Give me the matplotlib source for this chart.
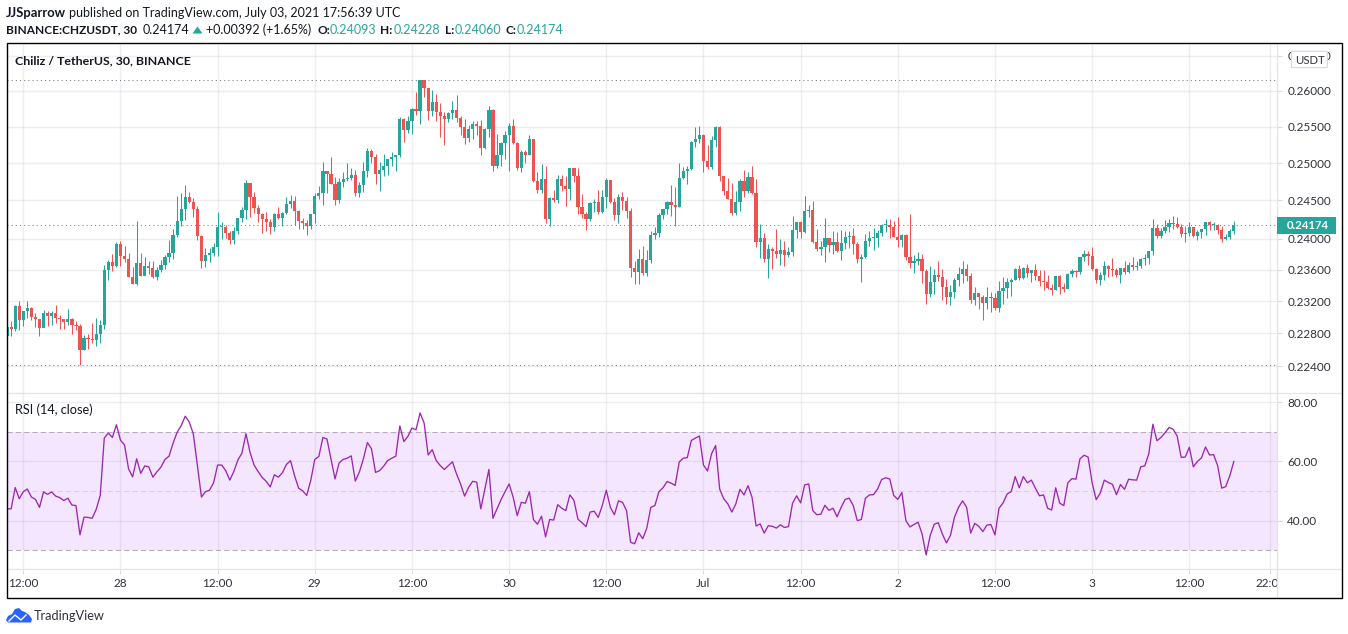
import numpy as np
import matplotlib
matplotlib.use("Agg")
import matplotlib.pyplot as plt
from matplotlib.patches import Rectangle, Polygon, FancyBboxPatch

first_open = 22771
closes = [
    22883,22854,23142,22967,23079,23117,23004,22979,22867,23054,23017,23054,22992,22979,22942,22979,22904,22895,22596,22743,
    22730,22718,22792,22904,23592,23695,23643,23927,23772,23733,23504,23417,23682,23517,23643,23617,23504,23592,23656,23759,
    23811,24044,24228,24386,24545,24478,24386,24031,23707,23785,23811,23888,24149,24149,24070,23979,24096,24268,24373,24737,
    24545,24399,24320,24254,24215,24149,24320,24268,24333,24452,24491,24360,24228,24202,24162,
    24320,24559,24600,24900,24859,24723,24505,24750,24791,24805,24846,24600,24709,24900,25171,25090,24859,24914,24968,25050,
    25077,25104,25606,25455,25579,25745,25718,26148,26037,25718,25843,25704,25648,25606,25690,25731,25620,25495,25347,25468,
    25537,25509,25212,25468,25731,24955,25104,25279,25387,25509,25279,24941,25158,25117,25333,24764,24641,24791,24254,24531,
    24505,24791,24696,24655,24928,24832,24412,24320,24254,24465,24478,24346,24545,24778,24478,24307,24545,24491,24360,23617,
    23567,23733,
    23554,23720,24044,24070,24307,24386,24478,24439,24412,24801,24896,24923,25291,25332,25387,25032,24950,25318,25495,24829,
    24626,24518,24333,24478,24761,24626,24815,24599,23953,24004,23733,23862,23837,23798,23849,23785,23824,24110,24215,24083,
    24360,24373,23953,23862,23888,24004,23914,23953,23837,23940,24018,24031,23927,23733,23759,23966,24004,24004,24070,24175,
    24175,24149,24018,23978,24044,23759,23682,23707,23733,23579,23292,23442,23529,23510,
    23379,23254,23317,23467,23542,23604,23517,23217,23304,23254,23179,23254,23242,23117,23329,23367,23442,23467,23604,23492,
    23617,23554,23592,23517,23454,23445,23367,23342,23517,23379,23354,23542,23579,23567,23759,23798,23772,23604,23467,23529,
    23643,23604,23592,23529,23617,23567,23656,23630,23643,23733,23746,23836,24136,24031,24096,24149,24202,24189,24149,24057,
    24070,24149,24031,24083,24123,24215,24175,24175,24110,23991,24018,24093,24174,
]
highs = [
    22954,22954,23154,23204,23079,23204,23129,23050,22979,23088,23079,23079,23154,23029,22979,23104,22992,22954,22917,22779,
    22792,22929,22992,22967,23656,23720,23798,23953,23966,23901,23811,23630,24228,23811,23759,23707,23707,23630,23720,23785,
    23979,24123,24559,24600,24709,24614,24532,24425,24044,23875,23875,23940,24346,24215,24175,24096,24149,24268,24412,24778,
    24737,24614,24439,24333,24346,24254,24333,24412,24346,24545,24573,24559,24373,24268,24241,
    24320,24600,24696,25009,24900,25090,24819,24805,24887,24996,24928,24914,24750,25009,25212,25198,25130,25009,25130,25063,
    25158,25117,25634,25620,25648,25759,25981,26148,26148,26037,26009,25954,25829,25704,25704,25857,25940,25648,25606,25523,
    25579,25579,25593,25482,25787,25745,25401,25293,25441,25551,25606,25293,25185,25185,25387,25320,24887,24982,24955,24545,
    24641,24846,24846,24832,24941,24928,24928,24586,24346,24478,24518,24641,24641,24805,24778,24531,24586,24614,24545,24399,
    23707,23862,
    23901,23849,24096,24149,24333,24386,24491,24707,24680,25005,24950,24963,25305,25495,25509,25400,25250,25373,25509,25509,
    24815,24802,24734,24626,24788,24910,24883,24964,24788,24189,24070,23927,23888,24123,23991,23966,23888,24294,24215,24228,
    24559,24439,24491,24123,23966,24268,24004,24096,24083,24110,24096,24096,24136,23953,23798,24057,24096,24136,24110,24189,
    24254,24254,24228,24281,24057,24057,24320,23785,23824,23798,23604,23643,23604,23708,
    23604,23479,23404,23492,23630,23708,23669,23554,23379,23292,23279,23379,23317,23304,23454,23504,23492,23492,23617,23656,
    23630,23669,23592,23669,23592,23592,23529,23417,23517,23529,23429,23554,23604,23592,23759,23849,23836,23888,23617,23567,
    23708,23656,23746,23617,23617,23708,23695,23759,23708,23746,23798,23836,24254,24189,24136,24241,24254,24294,24281,24189,
    24162,24215,24149,24110,24123,24215,24228,24215,24189,24162,24057,24123,24228,
]
lows = [
    22771,22767,22833,22842,22892,22992,22967,22879,22767,22879,22892,22904,22929,22854,22854,22904,22792,22842,22412,22596,
    22608,22682,22645,22682,22854,23467,23579,23630,23643,23695,23504,23417,23404,23517,23529,23542,23492,23467,23567,23604,
    23695,23733,24018,24162,24241,24465,24281,23979,23617,23630,23695,23772,23772,23991,24004,23927,23927,24057,24215,24254,
    24281,24333,24215,24070,24096,24057,24096,24254,24162,24320,24399,24175,24123,24123,24044,
    24123,24202,24518,24439,24600,24723,24439,24465,24682,24764,24778,24559,24545,24614,24819,24996,24723,24627,24832,24846,
    24955,24900,25090,25293,25414,25401,25662,25537,25912,25593,25648,25579,25360,25252,25565,25606,25565,25387,25266,25293,
    25333,25387,25117,25198,25360,24900,24928,24968,25063,24900,25266,24914,24887,24996,25117,24750,24600,24600,24202,24162,
    24478,24465,24627,24425,24505,24750,24320,24268,24110,24228,24346,24320,24333,24399,24465,24241,24202,24373,24268,23504,
    23417,23417,
    23529,23517,23682,23991,24018,24254,24320,24294,24162,24412,24788,24720,24914,25223,25278,24883,24923,24923,25223,24761,
    24572,24518,24307,24307,24360,24545,24599,24585,23888,23746,23695,23492,23604,23746,23656,23643,23759,23772,24004,24004,
    24070,24281,23940,23837,23785,23695,23824,23798,23824,23720,23862,23875,23798,23682,23442,23746,23901,23849,23888,24031,
    24083,24004,24018,23888,23888,23720,23617,23554,23656,23429,23167,23254,23292,23454,
    23217,23167,23154,23242,23392,23429,23454,23179,23154,23104,22967,23104,23067,23092,23067,23167,23242,23267,23467,23467,
    23479,23504,23442,23467,23392,23342,23354,23279,23342,23292,23317,23367,23504,23504,23542,23708,23656,23592,23429,23404,
    23467,23504,23517,23504,23429,23542,23554,23592,23592,23617,23656,23669,23785,24004,24004,24070,24083,24123,24136,24018,
    23953,24031,24018,23979,24004,24044,24110,24110,24057,23953,23979,23991,24060,
]
rsi = [
    44.0,44.0,51.2,47.4,49.8,50.7,48.0,47.2,44.5,49.7,48.9,49.7,48.3,47.8,46.8,47.6,45.3,45.1,35.2,41.2,
    41.1,40.8,43.8,48.5,67.9,69.6,68.1,72.4,67.2,65.6,57.5,54.8,60.9,56.0,58.5,58.2,54.7,56.5,58.1,60.7,
    61.8,66.2,69.9,72.1,75.3,73.3,69.3,58.6,48.0,49.8,50.3,52.8,58.8,58.8,56.9,53.7,56.6,60.5,62.8,69.4,
    63.1,58.8,56.6,54.6,53.3,51.4,55.5,54.7,56.2,59.0,60.3,55.2,51.0,50.1,48.5,53.6,60.7,61.7,68.1,67.6,
    60.9,54.1,59.5,60.7,61.1,61.9,53.4,56.4,60.9,66.4,64.3,56.3,56.9,58.4,60.3,61.1,61.8,72.0,66.7,68.5,
    71.3,70.7,76.4,73.0,62.2,
    64.0,60.3,58.6,57.3,58.6,59.9,55.8,52.4,48.3,51.3,53.3,53.0,44.0,50.7,57.3,40.8,44.0,47.1,49.8,52.4,
    47.9,41.7,46.2,45.9,49.8,40.4,38.8,41.5,34.5,40.4,40.2,45.4,44.2,43.4,48.7,46.9,40.5,39.3,38.0,42.9,
    43.2,41.1,45.1,50.3,44.5,42.0,46.7,46.2,43.4,32.7,32.2,35.9,33.9,37.5,44.5,45.1,49.8,51.1,53.2,52.7,
    51.9,59.8,61.1,61.3,67.1,67.9,68.6,58.8,56.8,62.6,65.4,50.7,47.4,45.7,42.9,45.7,50.6,48.7,51.8,47.9,
    38.2,38.9,35.8,38.3,38.1,37.5,38.6,37.7,38.0,45.9,48.4,46.0,52.1,52.4,43.4,42.0,42.2,45.2,43.5,44.2,
    41.3,44.5,47.2,47.6,
    45.1,40.0,40.4,47.6,48.7,48.8,50.7,53.9,54.5,54.1,48.5,47.2,49.5,40.0,37.9,38.7,39.5,35.5,28.4,35.0,
    38.8,39.3,35.5,32.5,35.0,41.2,44.5,46.7,44.5,35.8,39.1,38.1,36.3,38.5,38.7,35.2,44.2,46.0,49.0,49.8,
    54.9,51.1,54.9,52.8,53.7,50.9,48.4,48.7,44.2,43.6,51.1,45.9,45.1,52.8,54.2,54.0,60.9,62.1,61.5,52.8,
    47.1,49.3,53.7,52.9,52.3,48.8,52.2,50.6,54.0,53.8,53.7,58.2,58.5,62.6,72.6,67.0,68.1,69.7,71.5,70.9,
    68.6,61.4,61.5,64.8,58.2,60.0,61.2,64.9,62.2,62.3,58.6,51.0,51.5,55.2,60.0,
]

price_ticks = [0.224, 0.228, 0.232, 0.236, 0.24, 0.245, 0.25, 0.255, 0.26, 0.265]
rsi_ticks = [40, 60, 80]
rsi_bands = [30, 50, 70]
time_ticks = [0, 24, 48, 72, 96, 120, 144, 168, 192, 216, 240, 264, 288, 308]
time_labels = ["12:00", "28", "12:00", "29", "12:00", "30", "12:00", "Jul", "12:00", "2", "12:00", "3", "12:00", "22:00"]

TEAL = "#26a69a"
RED = "#ef5350"
DARK = "#131722"
LINE = "#e0e3eb"
FONT = "Lato"
W, H = 1348, 634
AXIS_SIZE = 8.5

plt.rcParams["font.family"] = [FONT, "DejaVu Sans"]


def box(x0, y0, x1, y1):
    # pixel box (top-left origin) to figure fractions
    return [x0 / W, 1 - y1 / H, (x1 - x0) / W, (y1 - y0) / H]


def fx(x):
    return x / W


def fy(y):
    return 1 - y / H


closes = np.array(closes) / 1e5
highs = np.array(highs) / 1e5
lows = np.array(lows) / 1e5
opens = np.r_[first_open / 1e5, closes[:-1]]
rsi = np.array(rsi)
x = np.arange(len(closes)) - 4
up = closes >= opens

fig = plt.figure(figsize=(W / 100, H / 100), dpi=100)
ax = fig.add_axes(box(7, 44, 1277, 393))
ax2 = fig.add_axes(box(7, 393, 1277, 569.5))

xlim = (-4.026, 309.66)
dots = (0, (1, 3))

# price pane
ax.set_yscale("log")
ax.vlines(x, lows, highs, colors=np.where(up, TEAL, RED), linewidth=0.75, zorder=3)
ax.bar(x, np.maximum(np.abs(closes - opens), 0.00012), bottom=np.minimum(opens, closes), width=0.8,
       color=np.where(up, TEAL, RED), linewidth=0, zorder=4)
ax.axhline(highs.max(), color="#787b86", linestyle=dots, linewidth=0.75, zorder=2)
ax.axhline(lows.min(), color="#787b86", linestyle=dots, linewidth=0.75, zorder=2)
ax.axhline(closes[-1], color=TEAL, linestyle=dots, linewidth=0.75, zorder=5)
ax.set_xlim(xlim)
ax.set_ylim(0.22075, 0.26666)
ax.yaxis.set_minor_locator(matplotlib.ticker.NullLocator())
ax.yaxis.set_minor_formatter(matplotlib.ticker.NullFormatter())
ax.set_yticks(price_ticks, labels=["%.5f" % p for p in price_ticks])
ax.set_xticks(time_ticks, labels=[])

# rsi pane
ax2.axhspan(rsi_bands[0], rsi_bands[2], color="#f4e6fe", linewidth=0, zorder=0.2)
for b, c in zip(rsi_bands, ["#b5aeb8", "#d8cfe0", "#b5aeb8"]):
    ax2.axhline(b, color=c, linestyle=(0, (5, 3)), linewidth=0.75, zorder=2)
ax2.plot(x, rsi, color="#9c27b0", linewidth=0.95, zorder=3)
ax2.set_xlim(xlim)
ax2.set_ylim(23.5, 83.14)
ax2.set_yticks(rsi_ticks, labels=["%.2f" % r for r in rsi_ticks])
ax2.set_xticks(time_ticks, labels=time_labels)

for a in (ax, ax2):
    a.set_axisbelow(True)
    a.grid(True, color="#787b86", alpha=0.12, linewidth=1)
    a.yaxis.tick_right()
    a.tick_params(axis="y", length=3.5, width=0.75, color="#d6d8df", labelsize=AXIS_SIZE, labelcolor="#2f323c", pad=4)
    for s in a.spines.values():
        s.set_visible(False)
ax.tick_params(axis="x", length=0)
ax2.tick_params(axis="x", length=2.6, width=0.75, color="#d6d8df", labelsize=AXIS_SIZE, labelcolor="#2f323c", pad=3.5)

# the 22:00 label is cut off at the price scale
fig.add_artist(Rectangle((fx(1277), fy(597)), fx(63), fy(571) - fy(597), transform=fig.transFigure,
                         facecolor="white", edgecolor="none", zorder=1))

# pane and scale separators
for xs, ys in [((7, 1341), (393.3, 393.3)), ((7, 1341), (569.4, 569.4)), ((1277.3, 1277.3), (44, 597))]:
    fig.add_artist(plt.Line2D([fx(v) for v in xs], [fy(v) for v in ys], transform=fig.transFigure,
                              color=LINE, linewidth=0.9, zorder=1.5))

# last price tag
fig.canvas.draw()
last_y = ax.transData.transform((0, closes[-1]))[1] / H
fig.add_artist(Rectangle((fx(1277), last_y - 8.3 / H), fx(59), 16.6 / H, transform=fig.transFigure,
                         facecolor=TEAL, edgecolor="none", zorder=2))
fig.text(fx(1287), last_y, "%.5f" % closes[-1], color="white", fontsize=8.2, fontweight="bold", va="center", zorder=3)

# USDT button over the top scale label
fig.add_artist(FancyBboxPatch((fx(1293), fy(67)), fx(33), fy(52) - fy(67),
                              boxstyle="round,pad=0.001", transform=fig.transFigure,
                              facecolor="white", edgecolor="#d6d8df", linewidth=0.8, zorder=2))
fig.text(fx(1309.5), fy(60), "USDT", color="#2f323c", fontsize=8.2, ha="center", va="center", zorder=3)

# frame around chart
fig.add_artist(Rectangle((fx(6.5), fy(597.5)), fx(1335), fy(42.7) - fy(597.5), transform=fig.transFigure,
                         facecolor="none", edgecolor="black", linewidth=1.0, zorder=5))

# pane titles
fig.text(fx(15), fy(60.5), "Chiliz / TetherUS, 30, BINANCE", color=DARK, fontsize=8.95, fontweight="bold", va="center")
fig.text(fx(15), fy(410), "RSI (14, close)", color=DARK, fontsize=9.2, va="center")

# header
HDR = 9.0
HDR_BOLD = 8.6
fig.text(fx(6), fy(13), "JJSparrow", color=DARK, fontsize=9.4, fontweight="bold", va="center")
fig.text(fx(69), fy(13), "published on TradingView.com, July 03, 2021 17:56:39 UTC", color=DARK, fontsize=HDR, va="center")
fig.text(fx(6), fy(30), "BINANCE:CHZUSDT, 30", color=DARK, fontsize=HDR_BOLD, fontweight="bold", va="center")
fig.text(fx(143), fy(30), "0.24174", color=DARK, fontsize=HDR, va="center")
fig.add_artist(Polygon([(fx(192.5), fy(33.5)), (fx(202.5), fy(33.5)), (fx(197.5), fy(26.5))], closed=True,
                       transform=fig.transFigure, facecolor=TEAL, edgecolor="none"))
fig.text(fx(206), fy(30), "+0.00392 (+1.65%)", color=DARK, fontsize=HDR, va="center")
header_ohlc = [("O:", 317, "0.24093", 330), ("H:", 380, "0.24228", 394), ("L:", 444.5, "0.24060", 455), ("C:", 505.5, "0.24174", 517)]
for key, kx, val, vx in header_ohlc:
    fig.text(fx(kx), fy(30), key, color=DARK, fontsize=HDR_BOLD, fontweight="bold", va="center")
    fig.text(fx(vx), fy(30), val, color=TEAL, fontsize=HDR, va="center")

# TradingView logo
cloud = [(6, 620), (8, 616), (12, 614), (15, 609), (19, 608), (22, 611), (25, 612), (29, 615), (32, 619), (31, 622.5), (8, 622.5)]
fig.add_artist(Polygon([(fx(a), fy(b)) for a, b in cloud], closed=True, transform=fig.transFigure,
                       facecolor="#2962ff", edgecolor="none"))
zig = [(9, 621), (15, 615), (21, 620), (26, 615)]
fig.add_artist(plt.Line2D([fx(a) for a, b in zig], [fy(b) for a, b in zig], transform=fig.transFigure, color="white", linewidth=1.0))
fig.text(fx(34), fy(616), "TradingView", color="#2f323c", fontsize=9.2, va="center")

fig.savefig("out.png", dpi=100)
